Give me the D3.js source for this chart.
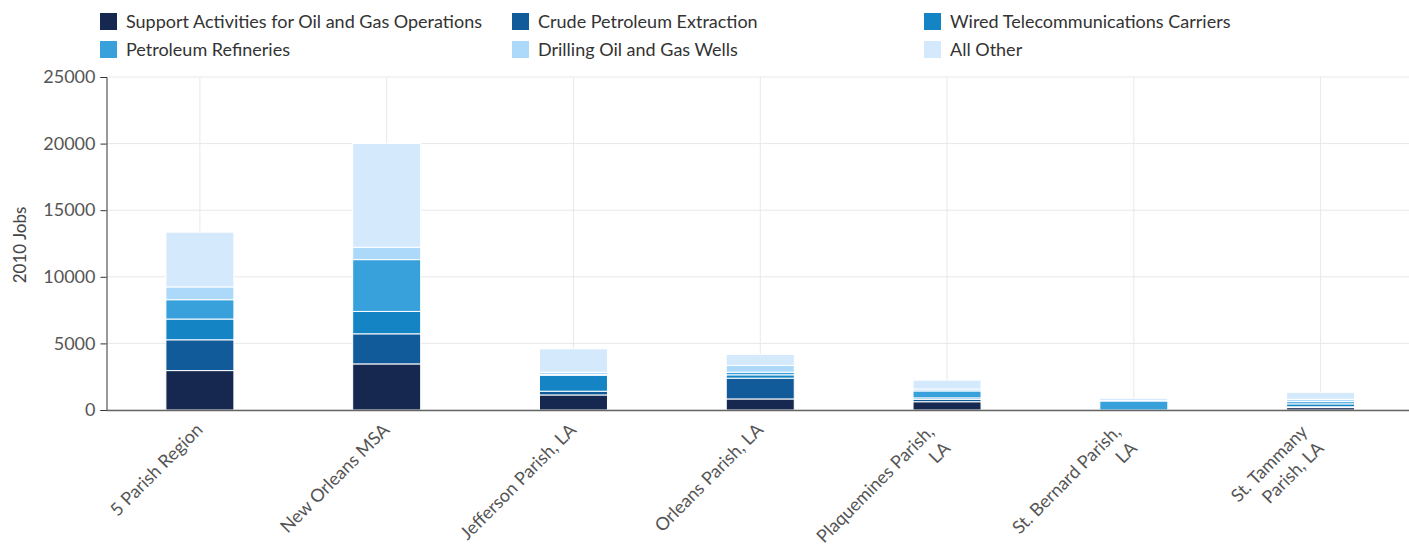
<!DOCTYPE html>
<html><head><meta charset="utf-8">
<script src="https://cdn.jsdelivr.net/npm/d3@7"></script>
<style>
body{margin:0;background:#fff;font-family:Lato,"Open Sans",sans-serif;}
svg{display:block;}
</style></head>
<body><svg id="c" width="1409" height="546"></svg>
<script>
const categories = ["5 Parish Region","New Orleans MSA","Jefferson Parish, LA","Orleans Parish, LA","Plaquemines Parish, LA","St. Bernard Parish, LA","St. Tammany Parish, LA"];
const categoryLines = [["5 Parish Region"],["New Orleans MSA"],["Jefferson Parish, LA"],["Orleans Parish, LA"],["Plaquemines Parish,","LA"],["St. Bernard Parish,","LA"],["St. Tammany","Parish, LA"]];
const seriesNames = ["Support Activities for Oil and Gas Operations","Crude Petroleum Extraction","Wired Telecommunications Carriers","Petroleum Refineries","Drilling Oil and Gas Wells","All Other"];
const seriesColors = ["#16284f","#125b9b","#1584c4","#38a1dc","#acd8fa","#d5e9fc"];
const supportActivities = [2960, 3460, 1130, 830, 620, 0, 180];
const crudePetroleum   = [2310, 2260, 280, 1560, 180, 0, 60];
const wiredTelecom     = [1560, 1680, 1200, 250, 110, 0, 220];
const refineries       = [1450, 3890, 60, 200, 520, 680, 170];
const drillingWells    = [960, 930, 170, 500, 150, 20, 170];
const allOther         = [4110, 7790, 1750, 830, 660, 180, 530];
const yTicks = [0, 5000, 10000, 15000, 20000, 25000];
const yTitle = "2010 Jobs";

const seriesValues = [supportActivities, crudePetroleum, wiredTelecom, refineries, drillingWells, allOther];
const table = categories.map((c, i) => {
  const o = {cat: c};
  seriesNames.forEach((s, j) => o[s] = seriesValues[j][i]);
  return o;
});
const stacked = d3.stack().keys(seriesNames)(table);

const svg = d3.select("#c");
const L = 106.5, R = 1414, T = 77, B = 410;
const x = d3.scaleBand().domain(categories).range([L, R]).paddingInner(0).paddingOuter(0);
const y = d3.scaleLinear().domain([0, 25000]).range([B, T]);
const barW = 68;

svg.append("g").selectAll("line").data(yTicks).join("line")
  .attr("x1", L).attr("x2", R).attr("y1", d => y(d)).attr("y2", d => y(d))
  .attr("stroke", "#e8e8e8").attr("stroke-width", 1);
svg.append("g").selectAll("line").data(categories).join("line")
  .attr("x1", d => x(d) + x.bandwidth()/2).attr("x2", d => x(d) + x.bandwidth()/2)
  .attr("y1", T).attr("y2", B).attr("stroke", "#e8e8e8").attr("stroke-width", 1);

svg.append("g").selectAll("g").data(stacked).join("g")
  .attr("fill", (d, i) => seriesColors[i])
  .selectAll("rect").data(d => d).join("rect")
  .attr("x", d => x(d.data.cat) + x.bandwidth()/2 - barW/2)
  .attr("width", barW)
  .attr("y", d => y(d[1]))
  .attr("height", d => Math.max(0, y(d[0]) - y(d[1])))
  .attr("stroke", "#fff").attr("stroke-width", 1);

const ya = svg.append("g").attr("transform", `translate(${L},0)`)
  .call(d3.axisLeft(y).tickValues(yTicks).tickSize(6).tickPadding(5).tickFormat(d3.format("d")));
ya.select(".domain").attr("stroke", "#333").attr("stroke-width", 1);
ya.selectAll(".tick line").attr("stroke", "#333");
ya.selectAll("text").attr("font-family", "Lato").attr("font-size", 18).attr("fill", "#555");

svg.append("line").attr("x1", L).attr("x2", R).attr("y1", B + 0.5).attr("y2", B + 0.5)
  .attr("stroke", "#666").attr("stroke-width", 1.5);

const xl = svg.append("g");
categories.forEach((c, i) => {
  const lines = categoryLines[i];
  const n = lines.length;
  const cx = x(c) + x.bandwidth()/2;
  const g = xl.append("g").attr("transform", `translate(${cx + 4 - (n-1)*16},${431 + (n-1)*2}) rotate(-45)`);
  lines.forEach((ln, k) => {
    g.append("text").attr("x", 0).attr("y", k * 23)
      .attr("text-anchor", "end").attr("font-family", "Lato").attr("font-size", 18)
      .attr("fill", "#555").text(ln);
  });
});

svg.append("text").attr("transform", "translate(26,245) rotate(-90)")
  .attr("text-anchor", "middle").attr("font-family", "Lato").attr("font-size", 17)
  .attr("fill", "#444").text(yTitle);

const legX = [100, 512, 924];
const leg = svg.append("g");
seriesNames.forEach((s, i) => {
  const col = i % 3, row = Math.floor(i / 3);
  const gx = legX[col], gy = 13 + row * 28;
  leg.append("rect").attr("x", gx).attr("y", gy).attr("width", 17).attr("height", 17)
    .attr("fill", seriesColors[i]);
  leg.append("text").attr("x", gx + 26).attr("y", gy + 15)
    .attr("font-family", "Lato").attr("font-size", 18).attr("fill", "#333").text(s);
});
</script></body></html>
